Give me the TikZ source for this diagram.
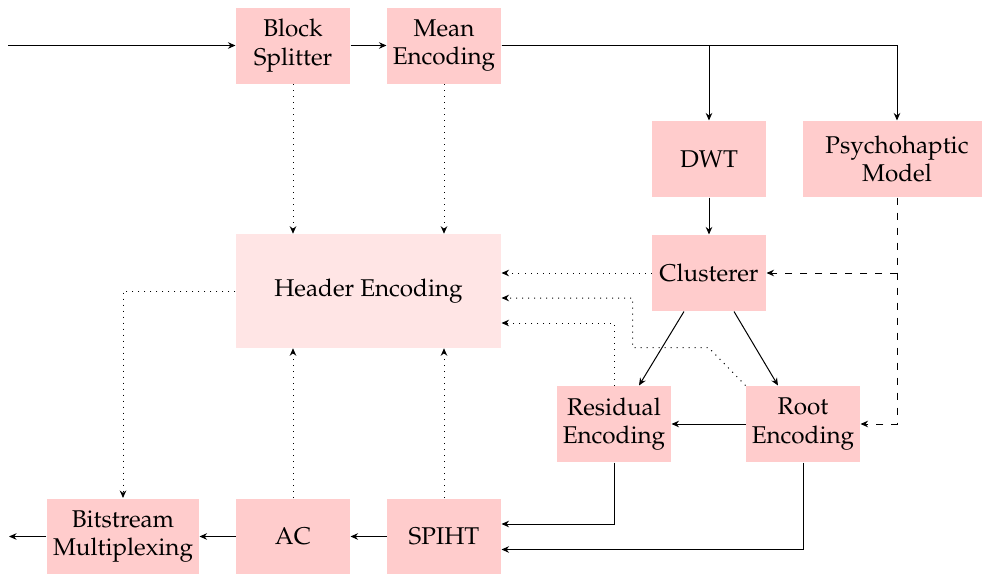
\documentclass[tikz,border=0pt]{standalone}
\usepackage[T1]{fontenc}
\usepackage{mathpazo}
\usetikzlibrary{arrows.meta}

\begin{document}
\begin{tikzpicture}[
  x=0.4pt, y=-0.4pt,
  >={Stealth[length=3pt, width=2.6pt]},
  box/.style={fill=red!20, minimum width=45.6pt, minimum height=30.4pt, align=center, inner sep=2pt,
    font=\fontsize{9.7pt}{11.4pt}\selectfont}
]
  \useasboundingbox (0,0) rectangle (982,574);

  \node[box] (split) at (293,45.5)  {Block\\Splitter};
  \node[box] (mean)  at (444,45.5)  {Mean\\Encoding};
  \node[box] (dwt)   at (709,159)   {DWT};
  \node[box, minimum width=75.2pt] (psy) at (897,159) {Psychohaptic\\Model};
  \node[box] (clus)  at (709,273)   {Clusterer};
  \node[box, fill=red!10, minimum width=106pt, minimum height=45.4pt] (head) at (368.5,291) {Header Encoding};
  \node[box] (res)   at (614,424)   {Residual\\Encoding};
  \node[box] (root)  at (803,424)   {Root\\Encoding};
  \node[box, minimum width=60.8pt] (bits) at (123,536.5) {Bitstream\\Multiplexing};
  \node[box] (ac)    at (293,536.5) {AC};
  \node[box] (spiht) at (444,536.5) {SPIHT};
  \coordinate (in)  at (8,45.5);
  \coordinate (out) at (9,536.5);

  \draw[->] (in) -- (split);
  \draw[->] (split) -- (mean);
  \draw[->] (mean) -| (dwt);
  \draw[->] (mean) -| (psy);
  \draw[->] (dwt) -- (clus);
  \draw[->] ([xshift=-10pt]clus.south) -- ([xshift=10pt]res.north);
  \draw[->] ([xshift=10pt]clus.south) -- ([xshift=-10pt]root.north);
  \draw[->] (root) -- (res);
  \draw[->] (res) |- ([yshift=5pt]spiht.east);
  \draw[->] (root) |- ([yshift=-5.2pt]spiht.east);
  \draw[->] (spiht) -- (ac);
  \draw[->] (ac) -- (bits);
  \draw[->] (bits) -- (out);

  \draw[->, dashed] (psy) |- (root);
  \draw[->, dashed] (psy.south |- clus) -- (clus);

  \draw[->, dotted] (split) -- (split |- head.north);
  \draw[->, dotted] (mean) -- (mean |- head.north);
  \draw[->, dotted] (ac) -- (ac |- head.south);
  \draw[->, dotted] (spiht) -- (spiht |- head.south);
  \draw[->, dotted] (clus) -- (clus -| head.east);
  \draw[->, dotted] (root.north west) -- ++(-37,-38) -- ++(-76,0) |- ([yshift=-2.8pt]head.east);
  \draw[->, dotted] (res) |- ([yshift=-12.8pt]head.east);
  \draw[->, dotted] (head) -| (bits);
\end{tikzpicture}
\end{document}
